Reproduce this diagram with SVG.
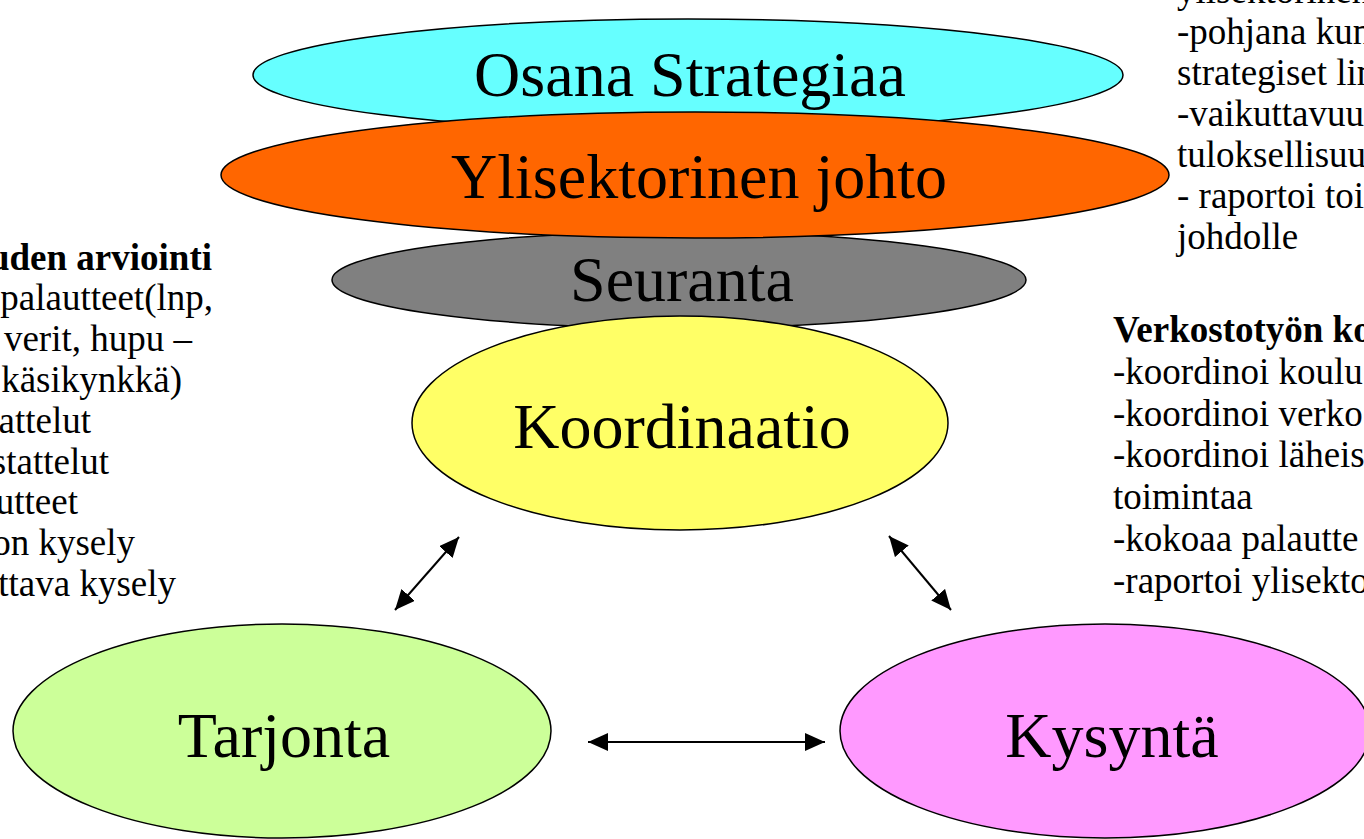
<svg xmlns="http://www.w3.org/2000/svg" width="1364" height="839" viewBox="0 0 1364 839">
<style>
.node{stroke:#000;stroke-width:1.5}
.lbl{font-family:"Liberation Serif","Times New Roman",serif;font-size:64px;fill:#000;text-anchor:middle}
.side{font-family:"Liberation Serif","Times New Roman",serif;font-size:37px;fill:#000}
.b{font-weight:bold}
.end{text-anchor:end}
.conn{stroke:#000;stroke-width:2;fill:none;marker-start:url(#ah);marker-end:url(#ah)}
</style>
<defs>
<marker id="ah" markerUnits="userSpaceOnUse" markerWidth="20" markerHeight="18" refX="20" refY="9" orient="auto-start-reverse" viewBox="0 0 20 18">
<path d="M0,0 L20,9 L0,18 z" fill="#000"/>
</marker>
</defs>
<rect width="1364" height="839" fill="#fff"/>
<g id="osana">
<ellipse class="node" cx="688" cy="75" rx="435" ry="56" fill="#66FFFF"/>
<text class="lbl" x="690" y="96">Osana Strategiaa</text>
</g>
<g id="seuranta">
<ellipse class="node" cx="679" cy="280" rx="347" ry="48" fill="#808080"/>
</g>
<g id="ylisektorinen">
<ellipse class="node" cx="695" cy="175" rx="474" ry="63" fill="#FF6600"/>
<text class="lbl" x="699" y="198">Ylisektorinen johto</text>
</g>
<g id="koordinaatio">
<ellipse class="node" cx="680" cy="423" rx="268" ry="107" fill="#FFFF66"/>
<text class="lbl" x="682" y="448">Koordinaatio</text>
</g>
<g id="seuranta-label">
<text class="lbl" x="682" y="301">Seuranta</text>
</g>
<g id="tarjonta">
<ellipse class="node" cx="282" cy="731" rx="269" ry="107" fill="#CCFF99"/>
<text class="lbl" x="284" y="757">Tarjonta</text>
</g>
<g id="kysynta">
<ellipse class="node" cx="1105" cy="731" rx="265" ry="107" fill="#FF99FF"/>
<text class="lbl" x="1112" y="757">Kysyntä</text>
</g>
<g id="connectors">
<line class="conn" x1="395" y1="610" x2="459" y2="537"/>
<line class="conn" x1="889" y1="536" x2="951" y2="610"/>
<line class="conn" x1="588" y1="742" x2="825" y2="742"/>
</g>
<g id="text-left">
<text class="side b end" x="212" y="270">uden arviointi</text>
<text class="side end" x="213" y="310">palautteet(lnp,</text>
<text class="side end" x="192" y="351">verit, hupu –</text>
<text class="side end" x="182" y="392">käsikynkkä)</text>
<text class="side end" x="91" y="433">attelut</text>
<text class="side end" x="109" y="474">stattelut</text>
<text class="side end" x="78" y="514">utteet</text>
<text class="side end" x="135" y="555">on kysely</text>
<text class="side end" x="176" y="596">ttava kysely</text>
</g>
<g id="text-right-top">
<text class="side" x="1177" y="3">ylisektorinen</text>
<text class="side" x="1177" y="44">-pohjana kun</text>
<text class="side" x="1177" y="85">strategiset lin</text>
<text class="side" x="1177" y="126">-vaikuttavuu</text>
<text class="side" x="1177" y="167">tuloksellisuu</text>
<text class="side" x="1177" y="208">- raportoi toi</text>
<text class="side" x="1177" y="249">johdolle</text>
</g>
<g id="text-right-mid">
<text class="side b" x="1113" y="342">Verkostotyön ko</text>
<text class="side" x="1113" y="384">-koordinoi koulu</text>
<text class="side" x="1113" y="426">-koordinoi verko</text>
<text class="side" x="1113" y="467">-koordinoi läheis</text>
<text class="side" x="1113" y="509">toimintaa</text>
<text class="side" x="1113" y="551">-kokoaa palautte</text>
<text class="side" x="1113" y="593">-raportoi ylisekto</text>
</g>
</svg>
